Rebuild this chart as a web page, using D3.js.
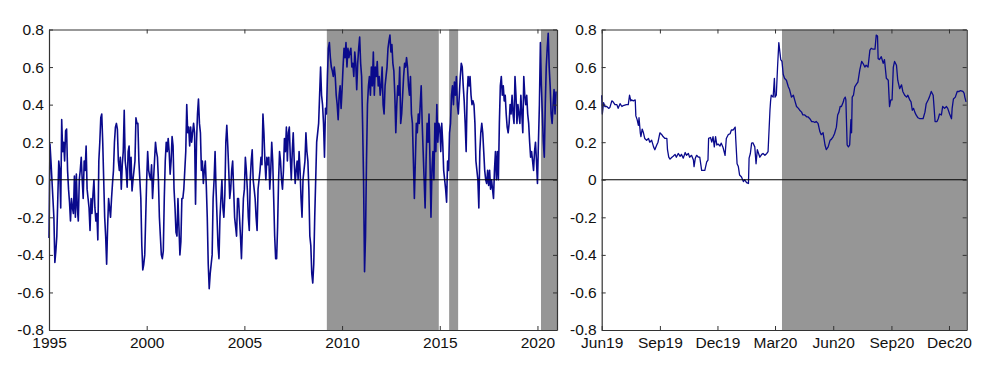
<!DOCTYPE html>
<html><head><meta charset="utf-8">
<script src="https://cdn.jsdelivr.net/npm/d3@7"></script>
<style>
body{margin:0;background:#fff;}
svg{display:block;font-family:"Liberation Sans",Arial,Helvetica,sans-serif;}
</style>
</head><body>
<svg id="chart" width="999" height="368"></svg>
<script>
// ---------- DATA ----------
// Left panel: regular series, one value every 0.05 year starting 1995.0
const leftStartYear = 1995;
const leftStepYears = 0.05;
const leftValues = [
-0.31,0.19,0.10,0.00,-0.10,-0.20,-0.44,-0.38,-0.30,-0.10,0.10,0.05,-0.15,0.32,0.15,0.20,0.10,0.26,0.27,0.05,
-0.05,-0.12,-0.22,-0.10,-0.15,-0.18,0.02,-0.20,0.03,-0.15,-0.22,0.00,0.05,0.12,0.00,-0.10,0.10,0.05,0.18,-0.05,
-0.10,-0.15,-0.27,-0.10,-0.18,-0.08,0.00,-0.15,-0.22,-0.18,-0.32,0.10,0.20,0.33,0.35,0.20,0.00,-0.20,-0.30,-0.45,
-0.25,-0.10,-0.15,-0.20,-0.10,-0.02,0.05,0.20,0.28,0.30,0.27,0.10,0.05,0.12,-0.05,0.08,0.15,0.37,0.10,0.05,
-0.04,0.15,0.18,0.00,0.12,-0.06,0.00,0.05,0.10,0.33,0.30,0.30,0.10,0.00,-0.10,-0.35,-0.48,-0.45,-0.40,-0.20,
0.00,0.15,0.05,0.02,0.00,0.08,-0.10,0.00,0.10,0.20,0.15,0.12,0.00,-0.20,-0.30,-0.40,-0.42,-0.38,-0.10,0.10,
0.20,0.15,0.22,0.15,0.03,0.10,0.23,0.18,-0.05,-0.15,-0.28,-0.30,-0.10,-0.25,-0.40,-0.33,-0.10,-0.10,-0.05,0.05,
0.15,0.40,0.25,0.28,0.18,0.28,0.20,0.25,0.30,0.25,-0.13,0.20,0.35,0.43,0.30,0.25,0.05,0.10,-0.02,0.05,
0.10,-0.03,-0.20,-0.45,-0.58,-0.50,-0.45,-0.40,-0.10,0.00,0.15,-0.05,-0.20,-0.35,-0.42,-0.20,-0.10,0.00,-0.15,-0.20,
-0.08,0.20,0.29,0.18,0.05,-0.10,-0.05,0.05,0.10,-0.05,-0.20,-0.25,-0.30,-0.10,-0.10,-0.20,-0.30,-0.42,-0.25,-0.10,
-0.05,0.12,0.05,-0.05,-0.20,-0.27,0.00,0.10,0.16,0.00,-0.05,-0.10,-0.20,-0.27,-0.05,0.00,0.05,0.12,0.08,0.35,
0.25,0.10,0.00,0.12,0.08,0.12,-0.05,0.05,0.20,0.10,-0.10,-0.30,-0.42,-0.42,-0.25,0.00,0.15,0.10,0.00,-0.05,
0.05,0.22,0.15,0.28,0.10,0.25,0.28,0.12,0.00,0.15,0.25,0.10,-0.02,0.05,0.10,0.00,0.15,0.05,-0.10,-0.20,
0.00,0.05,0.10,0.25,0.15,0.10,-0.05,-0.30,-0.35,-0.50,-0.55,-0.45,-0.20,0.00,0.20,0.25,0.30,0.45,0.60,0.45,
0.40,0.30,0.12,0.38,0.35,0.55,0.70,0.73,0.65,0.60,0.58,0.55,0.60,0.55,0.45,0.40,0.32,0.45,0.50,0.38,
0.48,0.60,0.70,0.65,0.73,0.60,0.70,0.65,0.68,0.70,0.60,0.62,0.55,0.68,0.62,0.48,0.62,0.70,0.76,0.62,
0.55,0.30,0.00,-0.49,-0.30,0.10,0.40,0.50,0.55,0.45,0.60,0.50,0.68,0.45,0.60,0.55,0.63,0.50,0.55,0.45,
0.50,0.60,0.40,0.35,0.50,0.55,0.60,0.70,0.74,0.77,0.68,0.72,0.62,0.58,0.45,0.25,0.40,0.50,0.45,0.60,
0.30,0.35,0.45,0.55,0.62,0.60,0.65,0.60,0.50,0.45,0.55,0.35,0.30,0.10,-0.10,0.10,0.30,0.25,0.35,0.30,
0.40,0.50,0.30,0.15,0.00,-0.15,0.10,0.30,0.20,0.35,0.10,-0.20,0.05,0.15,0.00,0.30,0.15,0.40,0.20,0.30,
0.28,0.15,0.30,0.20,0.05,0.00,-0.05,-0.12,0.10,0.05,0.25,0.30,0.45,0.50,0.40,0.52,0.45,0.55,0.40,0.35,
0.45,0.55,0.62,0.60,0.50,0.42,0.30,0.15,0.45,0.55,0.50,0.55,0.45,0.40,0.42,0.40,0.30,0.10,0.05,0.00,
-0.15,0.15,0.25,0.30,0.25,0.15,0.05,0.00,-0.02,0.05,-0.03,0.05,-0.05,0.00,-0.05,-0.10,0.05,0.15,0.00,0.15,
0.00,0.30,0.50,0.55,0.45,0.50,0.42,0.45,0.35,0.28,0.25,0.30,0.40,0.35,0.45,0.35,0.30,0.55,0.45,0.30,
0.40,0.35,0.30,0.45,0.35,0.25,0.55,0.45,0.40,0.45,0.35,0.30,0.20,0.12,0.15,0.10,0.05,0.15,0.20,0.10,
-0.02,0.20,0.40,0.73,0.50,0.35,0.20,0.12,0.40,0.60,0.70,0.78,0.60,0.50,0.35,0.30,0.40,0.48,0.35,0.47
];
const leftDomain = [1995, 2021];
const leftTickYears = [1995, 2000, 2005, 2010, 2015, 2020];
const leftShadeStart = [2009.22, 2015.48, 2020.18];
const leftShadeEnd   = [2014.95, 2015.94, 2021.0];

// Right panel: day offsets from start date and values
const rightStartDate = "2019-06-01";
const rightEndDate = "2020-12-29";
const rightDayOffsets = [
0,1,3,5,8,11,13,16,18,21,24,26,29,32,34,39,42,44,46,47,50,53,54,56,58,59,61,62,64,66,68,71,74,76,79,82,84,87,89,92,
95,97,100,103,104,106,108,111,113,116,118,121,124,126,129,132,134,137,139,142,145,146,148,150,153,155,158,161,163,166,
168,169,172,174,176,178,180,182,184,187,189,192,195,197,200,203,205,208,211,212,214,216,218,221,224,226,229,232,233,235,
237,239,242,244,246,248,250,253,255,258,261,263,266,267,268,271,273,274,276,278,280,282,283,285,287,289,292,295,297,300,
303,305,308,311,313,316,318,321,324,326,329,332,334,337,339,342,345,347,350,353,355,358,361,363,366,368,371,373,375,377,
379,382,383,385,386,388,390,392,394,395,396,398,400,403,405,408,411,413,416,418,421,424,426,429,432,434,436,437,439,442,
445,447,450,453,454,455,457,459,461,463,466,468,471,474,476,479,482,484,487,489,491,493,495,497,500,503,505,508,511,513,
516,518,521,524,525,527,530,532,534,537,539,542,545,547,550,553,554,556,559,562,565,567,571,573,574,576
];
const rightValues = [
0.45,0.35,0.41,0.39,0.39,0.38,0.385,0.42,0.415,0.40,0.40,0.38,0.405,0.39,0.395,0.40,0.40,0.45,0.42,0.425,0.42,0.425,0.34,0.32,0.29,0.33,0.25,0.23,0.27,0.25,0.22,0.21,0.22,0.20,0.21,0.175,0.16,0.185,0.20,0.25,
0.24,0.23,0.22,0.22,0.16,0.12,0.11,0.12,0.125,0.135,0.12,0.14,0.125,0.135,0.115,0.145,0.13,0.14,0.12,0.13,0.105,0.07,0.115,0.13,0.12,0.12,0.05,0.05,0.05,0.095,
0.105,0.22,0.225,0.20,0.23,0.175,0.23,0.185,0.19,0.18,0.195,0.17,0.13,0.22,0.24,0.245,0.265,0.265,0.28,0.21,0.085,0.07,0.025,0.015,-0.01,0.00,-0.015,-0.02,0.115,0.14,
0.195,0.197,0.175,0.085,0.16,0.14,0.12,0.135,0.14,0.13,0.14,0.15,0.37,0.42,0.45,0.44,0.54,0.44,0.45,0.60,0.73,0.67,0.64,0.63,0.56,0.54,0.53,0.495,0.48,0.44,
0.45,0.425,0.39,0.38,0.37,0.36,0.345,0.345,0.335,0.335,0.325,0.31,0.31,0.305,0.31,0.30,0.255,0.24,0.25,0.185,0.16,0.175,0.21,0.215,0.23,0.245,0.28,0.345,0.36,0.39,
0.39,0.415,0.43,0.44,0.425,0.185,0.175,0.185,0.32,0.25,0.44,0.45,0.495,0.51,0.52,0.585,0.63,0.62,0.60,0.61,0.60,0.69,0.70,0.695,0.695,0.77,0.765,0.645,0.64,0.655,
0.62,0.64,0.54,0.53,0.46,0.39,0.425,0.425,0.60,0.63,0.61,0.53,0.485,0.505,0.47,0.45,0.44,0.45,0.425,0.415,0.37,0.38,0.36,0.345,0.33,0.325,0.325,0.325,0.36,0.405,
0.425,0.44,0.47,0.45,0.405,0.31,0.31,0.325,0.35,0.345,0.39,0.38,0.39,0.38,0.35,0.325,0.38,0.43,0.44,0.47,0.47,0.475,0.47,0.46,0.44,0.415
];
const rightShadeStartDate = "2020-03-12";
const rightShadeEndDate = "2020-12-29";
const rightTickDates = ["2019-06-01","2019-09-01","2019-12-01","2020-03-01","2020-06-01","2020-09-01","2020-12-01"];
const rightTickLabels = ["Jun19","Sep19","Dec19","Mar20","Jun20","Sep20","Dec20"];

const yDomain = [-0.8, 0.8];
const yTickValues = [-0.8,-0.6,-0.4,-0.2,0,0.2,0.4,0.6,0.8];

// ---------- STYLE / LAYOUT ----------
const lineColor = "#0a0a8c";
const shadeColor = "#969696";
const frameColor = "#333";
const plotTop = 29.5, plotBottom = 330;
const leftPanel = {x0: 49, x1: 557};
const rightPanel = {x0: 601.7, x1: 966.7};

const svg = d3.select("#chart");
const y = d3.scaleLinear().domain(yDomain).range([plotBottom, plotTop]);
const yFmt = d => d === 0 ? "0" : d.toFixed(1);
const parse = d3.timeParse("%Y-%m-%d");

function frame(g, x, x0, x1, xTickVals, xFmt) {
  const bx = g.append("g").attr("transform", `translate(0,${plotBottom})`)
    .call(d3.axisBottom(x).tickValues(xTickVals).tickFormat(xFmt).tickSizeInner(-4).tickSizeOuter(0).tickPadding(7));
  const tx = g.append("g").attr("transform", `translate(0,${plotTop})`)
    .call(d3.axisTop(x).tickValues(xTickVals).tickFormat("").tickSizeInner(-4).tickSizeOuter(0));
  const ly = g.append("g").attr("transform", `translate(${x0},0)`)
    .call(d3.axisLeft(y).tickValues(yTickValues).tickFormat(yFmt).tickSizeInner(-4).tickSizeOuter(0).tickPadding(5));
  const ry = g.append("g").attr("transform", `translate(${x1},0)`)
    .call(d3.axisRight(y).tickValues(yTickValues).tickFormat("").tickSizeInner(-4).tickSizeOuter(0));
  [bx, tx, ly, ry].forEach(a => {
    a.selectAll(".domain").attr("stroke", frameColor).attr("stroke-width", 1.2);
    a.selectAll(".tick line").attr("stroke", frameColor);
    a.selectAll("text").attr("fill", "#111").style("font-size", "15.5px")
      .style("font-family", '"Liberation Sans",Arial,sans-serif');
  });
}

// ---------- LEFT PANEL ----------
{
  const g = svg.append("g");
  const x = d3.scaleLinear().domain(leftDomain).range([leftPanel.x0, leftPanel.x1]);
  g.selectAll("rect.shade").data(leftShadeStart).enter().append("rect")
    .attr("class", "shade")
    .attr("x", (d) => x(d))
    .attr("width", (d, i) => x(leftShadeEnd[i]) - x(d))
    .attr("y", plotTop).attr("height", plotBottom - plotTop)
    .attr("fill", shadeColor);
  const pts = leftValues.map((v, i) => ({t: leftStartYear + i * leftStepYears, v}));
  g.append("path").datum(pts)
    .attr("fill", "none").attr("stroke", lineColor).attr("stroke-width", 1.6)
    .attr("stroke-linejoin", "round")
    .attr("d", d3.line().x(d => x(d.t)).y(d => y(d.v)));
  g.append("line").attr("x1", leftPanel.x0).attr("x2", leftPanel.x1)
    .attr("y1", y(0)).attr("y2", y(0)).attr("stroke", "#000").attr("stroke-width", 1.2);
  frame(g, x, leftPanel.x0, leftPanel.x1, leftTickYears, d3.format("d"));
}

// ---------- RIGHT PANEL ----------
{
  const g = svg.append("g");
  const x = d3.scaleTime().domain([parse(rightStartDate), parse(rightEndDate)]).range([rightPanel.x0, rightPanel.x1]);
  const start = parse(rightStartDate);
  g.append("rect")
    .attr("x", x(parse(rightShadeStartDate)))
    .attr("width", x(parse(rightShadeEndDate)) - x(parse(rightShadeStartDate)))
    .attr("y", plotTop).attr("height", plotBottom - plotTop)
    .attr("fill", shadeColor);
  const pts = rightValues.map((v, i) => ({t: d3.timeDay.offset(start, rightDayOffsets[i]), v}));
  g.append("path").datum(pts)
    .attr("fill", "none").attr("stroke", lineColor).attr("stroke-width", 1.3)
    .attr("stroke-linejoin", "round")
    .attr("d", d3.line().x(d => x(d.t)).y(d => y(d.v)));
  g.append("line").attr("x1", rightPanel.x0).attr("x2", rightPanel.x1)
    .attr("y1", y(0)).attr("y2", y(0)).attr("stroke", "#000").attr("stroke-width", 1.2);
  const tickDates = rightTickDates.map(parse);
  frame(g, x, rightPanel.x0, rightPanel.x1, tickDates, (d, i) => rightTickLabels[i]);
}
</script>
</body></html>
